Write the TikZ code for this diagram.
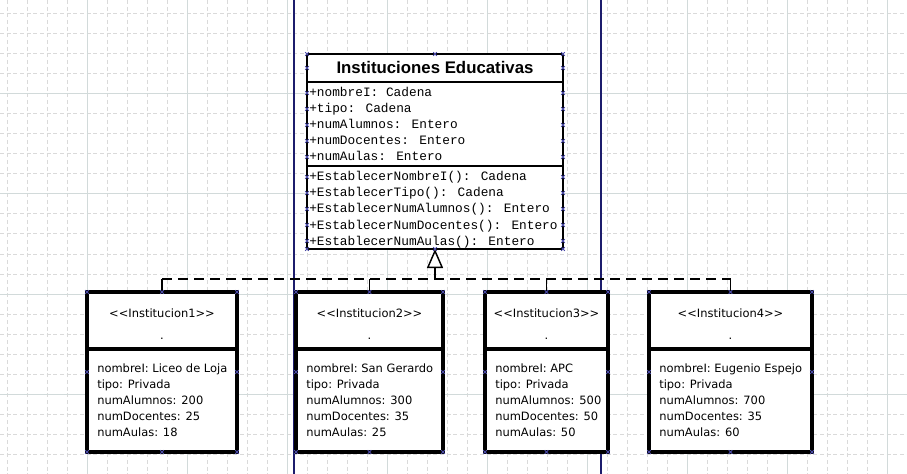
\documentclass[tikz,border=0pt]{standalone}
\usepackage{fontspec}
\setmainfont{DejaVu Sans}
\newfontfamily\monof{Liberation Mono}
\newfontfamily\titlef{Liberation Sans}
\usetikzlibrary{arrows.meta,fit}
\definecolor{gridminor}{HTML}{DADADA}
\definecolor{gridmajor}{HTML}{D2DADA}
\definecolor{navyline}{HTML}{1C1C6C}
\definecolor{handlec}{HTML}{4A4AA8}
\begin{document}
\begin{tikzpicture}[x=0.75pt,y=-0.75pt,
  minorgrid/.style={gridminor, line width=0.75pt, dash pattern=on 3pt off 2pt},
  majorgrid/.style={gridmajor, line width=0.75pt},
  frameline/.style={navyline, line width=0.9pt},
  mainbox/.style={draw=black, fill=white, line width=1.5pt, inner sep=0pt, outer sep=0pt},
  objbox/.style={draw=black, fill=white, line width=2.7pt, inner sep=0pt, outer sep=0pt},
  maindiv/.style={black, line width=1.5pt},
  objdiv/.style={black, line width=2.7pt},
  monotext/.style={font=\monof\fontsize{9.6}{12}\selectfont, anchor=base west, inner sep=0pt},
  objtext/.style={font=\fontsize{8.6}{12}\selectfont, anchor=base west, inner sep=0pt},
  stereo/.style={font=\fontsize{8.6}{12}\selectfont, anchor=base, inner sep=0pt},
  titletext/.style={font=\titlef\bfseries\fontsize{12.6}{14}\selectfont, anchor=base, inner sep=0pt},
  busline/.style={black, line width=1.5pt, dash pattern=on 7.5pt off 4.5pt},
  stemline/.style={black, line width=1.1pt},
  handle/.style={handlec, line width=0.6pt}
]
\useasboundingbox (0,0) rectangle (907,474);
\fill[white] (0,0) rectangle (907,474);
% grid
\foreach \gx in {7,27,...,907} \draw[minorgrid] (\gx,0) -- (\gx,474);
\foreach \gy in {14,34,...,474} \draw[minorgrid] (0,\gy) -- (907,\gy);
\foreach \gx in {87,187,...,887} \draw[majorgrid] (\gx,0) -- (\gx,474);
\foreach \gy in {94,194,294,394} \draw[majorgrid] (0,\gy) -- (907,\gy);
% page frame lines
\draw[frameline] (294,0) -- (294,474);
\draw[frameline] (601,0) -- (601,474);

% main class
\node[mainbox, fit={(307,54) (563,249)}] (main) {};
\draw[maindiv] (307,82) -- (563,82);
\draw[maindiv] (307,166) -- (563,166);
\node[titletext] (title) at (435,74) {Instituciones Educativas};
\foreach [count=\i] \t in {+nombreI: Cadena,+tipo: Cadena,+numAlumnos: Entero,+numDocentes: Entero,+numAulas: Entero}
  \node[monotext] (attr\i) at (309,{97+16*(\i-1)}) {\t};
\foreach [count=\i] \t in {+EstablecerNombreI(): Cadena,+EstablecerTipo(): Cadena,+EstablecerNumAlumnos(): Entero,+EstablecerNumDocentes(): Entero,+EstablecerNumAulas(): Entero}
  \node[monotext] (meth\i) at (309,{181+16*(\i-1)}) {\t};

% object boxes
\node[objbox, fit={(87,292) (237,452)}] (b1) {};
\node[objbox, fit={(296,292) (443,452)}] (b2) {};
\node[objbox, fit={(485,292) (608,452)}] (b3) {};
\node[objbox, fit={(649,292) (812,452)}] (b4) {};
\draw[objdiv] (87,349) -- (237,349);
\draw[objdiv] (296,349) -- (443,349);
\draw[objdiv] (485,349) -- (608,349);
\draw[objdiv] (649,349) -- (812,349);

\node[stereo] (s1) at (162,317) {<{}<Institucion1>{}>};
\node[stereo] (s2) at (369.5,317) {<{}<Institucion2>{}>};
\node[stereo] (s3) at (546.5,317) {<{}<Institucion3>{}>};
\node[stereo] (s4) at (730.5,317) {<{}<Institucion4>{}>};
\node[stereo] (d1) at (162,339) {.};
\node[stereo] (d2) at (369.5,339) {.};
\node[stereo] (d3) at (546.5,339) {.};
\node[stereo] (d4) at (730.5,339) {.};

\foreach [count=\i] \t in {nombreI: Liceo de Loja,tipo: Privada,numAlumnos: 200,numDocentes: 25,numAulas: 18}
  \node[objtext] (o1l\i) at (97,{372+16*(\i-1)}) {\t};
\foreach [count=\i] \t in {nombreI: San Gerardo,tipo: Privada,numAlumnos: 300,numDocentes: 35,numAulas: 25}
  \node[objtext] (o2l\i) at (306,{372+16*(\i-1)}) {\t};
\foreach [count=\i] \t in {nombreI: APC,tipo: Privada,numAlumnos: 500,numDocentes: 50,numAulas: 50}
  \node[objtext] (o3l\i) at (495,{372+16*(\i-1)}) {\t};
\foreach [count=\i] \t in {nombreI: Eugenio Espejo,tipo: Privada,numAlumnos: 700,numDocentes: 35,numAulas: 60}
  \node[objtext] (o4l\i) at (659,{372+16*(\i-1)}) {\t};

% realization connectors
\coordinate (bus) at (435,279);
\draw[busline] (b1.north |- bus) -- (b4.north |- bus);
\foreach \b in {b1,b2,b3,b4}
  \draw[stemline] (\b.north) -- (\b.north |- bus);
\draw[stemline, -{Triangle[open, length=14.25pt, width=12pt, line width=1.1pt]}] (bus) -- (main.south);

% selection handles
\foreach \b in {b1,b2,b3,b4}
  \foreach \a in {north west,north,north east,east,south east,south,south west,west}
    \draw[handle] (\b.\a) +(-1.8,-1.8) -- +(1.8,1.8) +(-1.8,1.8) -- +(1.8,-1.8);
\foreach \hy in {54,68,93,109,125,141,157,177,193,209,225,241,249}
  \foreach \hx in {307,563}
    \draw[handle] (\hx,\hy) +(-1.8,-1.8) -- +(1.8,1.8) +(-1.8,1.8) -- +(1.8,-1.8);
\foreach \a in {north,south}
  \draw[handle] (main.\a) +(-1.8,-1.8) -- +(1.8,1.8) +(-1.8,1.8) -- +(1.8,-1.8);
\end{tikzpicture}
\end{document}
